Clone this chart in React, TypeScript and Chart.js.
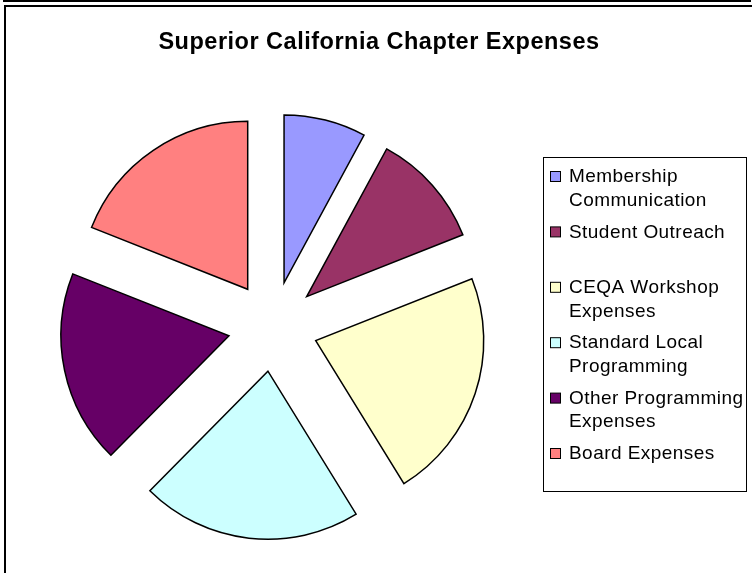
import React, { useEffect, useRef } from "react";
import { Chart, registerables } from "chart.js";

Chart.register(...registerables);

const title = "Superior California Chapter Expenses";
const categories = [
  "Membership Communication",
  "Student Outreach",
  "CEQA Workshop Expenses",
  "Standard Local Programming",
  "Other Programming Expenses",
  "Board Expenses",
];
const legendLines = [
  ["Membership", "Communication"],
  ["Student Outreach"],
  ["CEQA Workshop", "Expenses"],
  ["Standard Local", "Programming"],
  ["Other Programming", "Expenses"],
  ["Board Expenses"],
];
const values = [7.9, 11.1, 22.2, 21.2, 18.6, 19.0];
const colors = ["#9999FF", "#993366", "#FFFFCC", "#CCFFFF", "#660066", "#FF8080"];

const EXPLODE = 45;

const decorPlugin = {
  id: "decor",
  beforeDraw(chart: any) {
    const ctx = chart.ctx as CanvasRenderingContext2D;
    ctx.save();
    ctx.fillStyle = "#fff";
    ctx.fillRect(0, 0, chart.width, chart.height);
    ctx.strokeStyle = "#000";
    ctx.lineWidth = 2;
    ctx.beginPath();
    ctx.moveTo(4, 0);
    ctx.lineTo(4, 1);
    ctx.lineTo(750, 1);
    ctx.lineTo(750, 0);
    ctx.moveTo(4, 6);
    ctx.lineTo(752, 6);
    ctx.moveTo(5, 6);
    ctx.lineTo(5, 573);
    ctx.stroke();
    ctx.restore();
  },
  beforeDatasetsDraw(chart: any) {
    const ctx = chart.ctx as CanvasRenderingContext2D;
    const meta = chart.getDatasetMeta(0);
    meta.data.forEach((arc: any) => {
      const mid = (arc.startAngle + arc.endAngle) / 2;
      ctx.save();
      ctx.translate(Math.cos(mid) * EXPLODE, Math.sin(mid) * EXPLODE);
      arc.draw(ctx);
      ctx.restore();
    });
    return false;
  },
  afterDraw(chart: any) {
    const ctx = chart.ctx as any;
    ctx.save();
    // title
    ctx.fillStyle = "#000";
    ctx.font = "bold 23.5px 'Liberation Sans', Arial, sans-serif";
    ctx.letterSpacing = "0.5px";
    ctx.textAlign = "center";
    ctx.textBaseline = "middle";
    ctx.fillText(title, 379, 42.5);
    // legend box
    ctx.letterSpacing = "0px";
    ctx.strokeStyle = "#000";
    ctx.lineWidth = 1;
    ctx.strokeRect(543.5, 157.5, 203, 334);
    ctx.font = "19px 'Liberation Sans', Arial, sans-serif";
    ctx.letterSpacing = "0.45px";
    ctx.textAlign = "left";
    ctx.textBaseline = "middle";
    legendLines.forEach((lines, i) => {
      const y0 = 177 + i * 55.4;
      const col = chart.data.datasets[0].backgroundColor[i];
      ctx.fillStyle = col;
      ctx.fillRect(550.5, y0 - 5.5, 10, 10);
      ctx.strokeRect(550.5, y0 - 5.5, 10, 10);
      ctx.fillStyle = "#000";
      lines.forEach((t, j) => {
        ctx.fillText(t, 569, y0 + j * 23.5);
      });
    });
    ctx.restore();
  },
};

export default function App() {
  const ref = useRef<HTMLCanvasElement | null>(null);
  useEffect(() => {
    if (!ref.current) return;
    const chart = new Chart(ref.current, {
      type: "pie",
      data: {
        labels: categories,
        datasets: [
          {
            data: values,
            backgroundColor: colors,
            borderColor: "#000",
            borderWidth: 1.5,
            borderJoinStyle: "miter",
          },
        ],
      },
      options: {
        responsive: false,
        animation: false,
        radius: 168,
        layout: { padding: { left: 0, right: 206, top: 80, bottom: 0 } },
        plugins: {
          legend: { display: false },
          title: { display: false },
          tooltip: { enabled: false },
        },
      } as any,
      plugins: [decorPlugin],
    });
    return () => chart.destroy();
  }, []);
  return (
    <div style={{ position: "fixed", left: 0, top: 0, width: 752, height: 573, background: "#fff" }}>
      <canvas ref={ref} width={752} height={573} />
    </div>
  );
}
